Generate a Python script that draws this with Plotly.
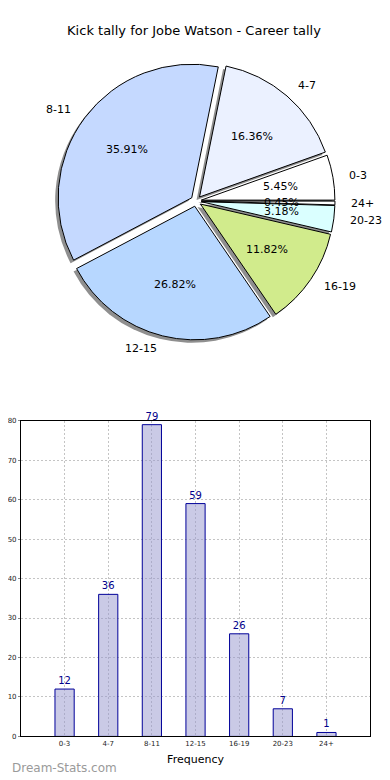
import numpy as np
import plotly.graph_objects as go

# ---------------- data ----------------
categories = ["0-3", "4-7", "8-11", "12-15", "16-19", "20-23", "24+"]
kicks = [12, 36, 79, 59, 26, 7, 1]
pie_colors = ["#ffffff", "#ebf1ff", "#c5d9ff", "#b7d7ff", "#d1eb8c", "#daffff", "#ffffff"]
title_text = "Kick tally for Jobe Watson - Career tally"
y_ticks = [0, 10, 20, 30, 40, 50, 60, 70, 80]

# the page body has an 8px margin; the figure is sized so that it ends at 390x780
OFF = 8
W, H = 390 - OFF, 780 - OFF
FONT = "DejaVu Sans"

# pie geometry in window pixels
cx, cy = 195, 199
r = 135
pull = 0.04
box = 2 * r * (1 + pull)

total = float(sum(kicks))
# plotly places the first slice clockwise from `rotation` even when counterclockwise,
# so rotate so that the first slice starts at 3 o'clock going counterclockwise
rotation = 90 - 360.0 * kicks[0] / total


def to_paper(x, y):
    return (x - OFF) / W, 1 - (y - OFF) / H


def xdom(a, b):
    return [(a - OFF) / W, (b - OFF) / W]


def ydom(top, bottom):
    return [1 - (bottom - OFF) / H, 1 - (top - OFF) / H]


fig = go.Figure()

# shadow pie (offset down-left)
sx, sy = -3, 3
fig.add_trace(go.Pie(
    values=kicks, labels=categories, sort=False, direction="counterclockwise",
    rotation=rotation, pull=[pull] * len(kicks), textinfo="none", hoverinfo="skip",
    marker=dict(colors=["#8f8f8f"] * len(kicks), line=dict(width=0)),
    domain=dict(x=xdom(cx + sx - box / 2, cx + sx + box / 2),
                y=ydom(cy + sy - box / 2, cy + sy + box / 2)),
    showlegend=False,
))

fig.add_trace(go.Pie(
    values=kicks, labels=categories, sort=False, direction="counterclockwise",
    rotation=rotation, pull=[pull] * len(kicks), textinfo="none",
    marker=dict(colors=pie_colors, line=dict(color="#000000", width=1)),
    domain=dict(x=xdom(cx - box / 2, cx + box / 2),
                y=ydom(cy - box / 2, cy + box / 2)),
    showlegend=False,
))

annotations = []
cum = 0.0
for cat, v in zip(categories, kicks):
    mid = np.deg2rad(360.0 * (cum + v / 2.0) / total)
    cum += v
    c, s = np.cos(mid), np.sin(mid)
    # percentage label
    px_, py_ = cx + (pull + 0.6) * r * c, cy - (pull + 0.6) * r * s
    xp, yp = to_paper(px_, py_)
    annotations.append(dict(x=xp, y=yp, xref="paper", yref="paper",
                            text=f"{v / total * 100:.2f}%", showarrow=False,
                            xanchor="center", yanchor="middle",
                            font=dict(family=FONT, size=11, color="#000000")))
    # category label
    lx, ly = cx + (pull + 1.1) * r * c, cy - (pull + 1.1) * r * s
    xl, yl = to_paper(lx, ly)
    annotations.append(dict(x=xl, y=yl, xref="paper", yref="paper",
                            text=cat, showarrow=False,
                            xanchor="left" if c > 0 else "right", yanchor="middle",
                            font=dict(family=FONT, size=11, color="#000000")))

# bar chart
fig.add_trace(go.Bar(
    x=list(range(len(categories))), y=kicks, width=0.44,
    text=[str(k) for k in kicks], textposition="outside", cliponaxis=False,
    textfont=dict(family=FONT, size=10, color="#00008b"),
    marker=dict(color="rgba(150,150,205,0.5)", line=dict(color="#000099", width=1)),
    xaxis="x", yaxis="y", showlegend=False,
))

wx, wy = to_paper(OFF, 772)
annotations.append(dict(x=wx, y=wy, xref="paper", yref="paper",
                        text="Dream-Stats.com", showarrow=False,
                        xanchor="left", yanchor="middle",
                        font=dict(family=FONT, size=12, color="#9a9a9a")))

tx, ty = to_paper(194, 30)
fig.update_layout(
    width=W, height=H,
    margin=dict(l=0, r=0, t=0, b=0),
    paper_bgcolor="#ffffff", plot_bgcolor="#ffffff",
    font=dict(family=FONT, color="#000000"),
    title=dict(text=title_text, x=tx, xanchor="center", y=ty, yanchor="middle",
               font=dict(family=FONT, size=13, color="#000000")),
    annotations=annotations,
    xaxis=dict(domain=xdom(19, 370), anchor="y", range=[-1, 7],
               tickmode="array", tickvals=list(range(len(categories))), ticktext=categories,
               tickfont=dict(family=FONT, size=7, color="#222222"),
               showgrid=True, gridcolor="#c4c4c4", griddash="2px,2px", gridwidth=1,
               showline=True, linecolor="#000000", linewidth=1, mirror=True,
               ticks="", zeroline=False,
               title=dict(text="Frequency", font=dict(family=FONT, size=11), standoff=8)),
    yaxis=dict(domain=ydom(421, 740), anchor="x", range=[0, 80],
               tickmode="array", tickvals=y_ticks,
               tickfont=dict(family=FONT, size=7, color="#222222"),
               showgrid=True, gridcolor="#c4c4c4", griddash="2px,2px", gridwidth=1,
               showline=True, linecolor="#000000", linewidth=1, mirror=True,
               ticks="outside", ticklen=2, tickcolor="#888888", zeroline=False),
)

fig.write_html("out.html")
